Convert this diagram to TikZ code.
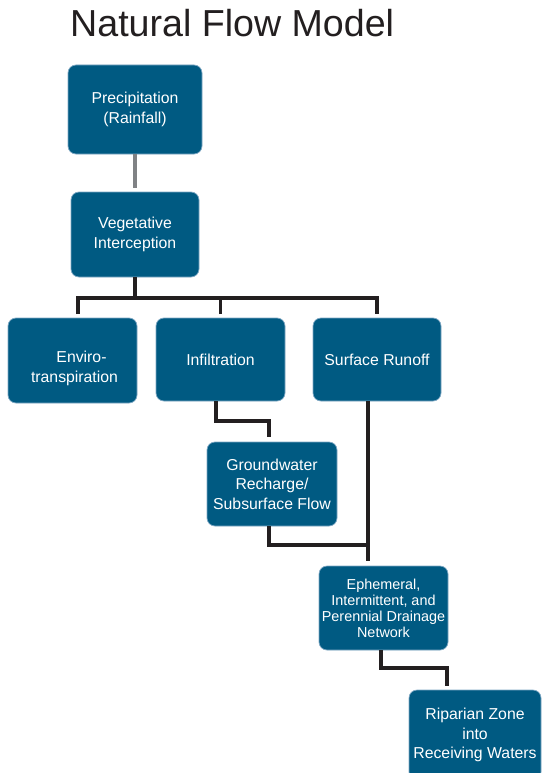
\documentclass[tikz,border=0pt]{standalone}
\usepackage{fontspec}
\setmainfont{Liberation Sans}
\usetikzlibrary{calc}
\definecolor{boxblue}{HTML}{005A82}
\definecolor{boxedge}{HTML}{7FA8C4}
\definecolor{connblack}{HTML}{231F20}
\definecolor{conngray}{HTML}{808285}
\tikzset{
  flowbox/.style={rectangle, rounded corners=8pt, fill=boxblue, draw=boxedge, line width=0.7pt,
    text=white, align=center, inner sep=0pt, outer sep=0pt,
    font=\fontsize{15.8}{19.5}\selectfont},
  conn/.style={draw=connblack, line width=3.2pt},
  grayconn/.style={draw=conngray, line width=4pt},
}
\begin{document}
\begin{tikzpicture}[x=1pt,y=1pt]
\useasboundingbox (0,0) rectangle (542,-773);
\clip (0,0) rectangle (542,-773);
\fill[white] (0,0) rectangle (542,-773);

\node[anchor=base west, inner sep=0pt, text=connblack, font=\fontsize{37.6}{40}\selectfont] (title) at (70,-37) {Natural Flow Model};

\node[flowbox, minimum width=134pt, minimum height=89pt] (prec) at (135,-109.5) {Precipitation\\(Rainfall)};
\node[flowbox, minimum width=128pt, minimum height=85pt] (veg) at (135,-234.5) {Vegetative\\Interception};
\node[flowbox, minimum width=129pt, minimum height=85pt,
  label={[text=white, align=center, font=\fontsize{15.8}{19.5}\selectfont, yshift=-8pt, xshift=2pt]center:{\hspace*{14pt}Enviro-\\transpiration}}] (enviro) at (72.5,-360.5) {};
\node[flowbox, minimum width=129pt, minimum height=83pt] (infil) at (220.5,-359.5) {Infiltration};
\node[flowbox, minimum width=128pt, minimum height=83pt] (surf) at (377,-359.5) {Surface Runoff};
\node[flowbox, minimum width=130pt, minimum height=84pt] (gw) at (272,-484) {Groundwater\\Recharge/\\Subsurface Flow};
\node[flowbox, minimum width=129pt, minimum height=84pt, font=\fontsize{14.4}{16}\selectfont] (eph) at (383.5,-608) {Ephemeral,\\Intermittent, and\\Perennial Drainage\\Network};
\node[flowbox, minimum width=132pt, minimum height=90pt] (rip) at (475,-735) {Riparian Zone\\into\\Receiving Waters};

% connectors
\draw[grayconn] (prec.south) -- ([yshift=4pt]veg.north);

\coordinate (bus) at (0,-298);
\draw[conn] (veg.south) -- (veg.south |- bus);
\draw[conn] ([xshift=5.5pt,yshift=4pt]enviro.north) -- ([xshift=5.5pt]enviro.north |- bus) -- (surf.north |- bus) -- ([yshift=4pt]surf.north);
\draw[conn] ([yshift=4pt]infil.north) -- (infil.north |- bus);

\draw[conn] ([xshift=-4.5pt]infil.south) -- ++(0,-20) -| ([xshift=-3pt,yshift=5pt]gw.north);
\draw[conn] ([xshift=-9pt]surf.south) -- ([xshift=-9pt,yshift=5pt]surf.south |- eph.north);
\draw[conn] ([xshift=-3pt]gw.south) -- ++(0,-19) coordinate (g1) -- ([xshift=-9pt]surf.south |- g1);
\draw[conn] ([xshift=-2.5pt]eph.south) -- ++(0,-18) -| ([xshift=-28pt,yshift=4pt]rip.north);
\end{tikzpicture}
\end{document}
